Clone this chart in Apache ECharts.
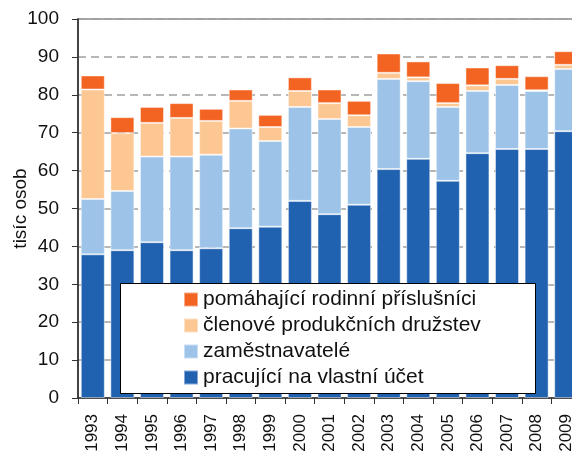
<!DOCTYPE html>
<html lang="cs">
<head>
    <meta charset="UTF-8">
    <title>tisíc osob</title>
    <script src="https://cdn.jsdelivr.net/npm/echarts@6.0.0/dist/echarts.min.js"></script>
    <style>
        html, body { margin: 0; padding: 0; background: #fff; overflow: hidden; }
        /* graf je vpravo oříznutý, proto je plátno širší než okno */
        #chart { width: 600px; height: 459px; }
    </style>
</head>
<body>
    <div id="chart"></div>

    <script>
        // roky na ose x
        const years = ['1993', '1994', '1995', '1996', '1997', '1998', '1999', '2000', '2001',
            '2002', '2003', '2004', '2005', '2006', '2007', '2008', '2009'];

        // hodnoty v tisících osob
        const vlastniUcet = [37.9, 39.0, 41.1, 39.0, 39.5, 44.8, 45.2, 52.0, 48.5,
            51.0, 60.4, 63.1, 57.3, 64.6, 65.7, 65.7, 70.4];
        const zamestnavatele = [14.6, 15.6, 22.6, 24.7, 24.7, 26.3, 22.6, 24.8, 25.1,
            20.5, 23.8, 20.5, 19.5, 16.4, 16.9, 15.3, 16.4];
        const clenoveDruzstev = [28.9, 15.3, 8.9, 10.2, 8.9, 7.3, 3.7, 4.2, 4.2,
            3.1, 1.6, 1.0, 1.0, 1.5, 1.6, 0.2, 1.1];
        const pomahajici = [3.7, 4.2, 4.2, 3.9, 3.2, 3.0, 3.2, 3.6, 3.6,
            3.8, 5.1, 4.2, 5.3, 4.7, 3.6, 3.7, 3.6];

        const yTicks = { min: 0, max: 100, interval: 10 };

        const font = '"Liberation Sans", Arial, sans-serif';

        function bar(name, data, color) {
            return {
                name: name,
                type: 'bar',
                stack: 'celkem',
                data: data,
                barWidth: 24,
                itemStyle: {
                    color: color,
                    borderColor: 'rgba(255,255,255,0.45)',
                    borderWidth: 1
                }
            };
        }

        const chart = echarts.init(document.getElementById('chart'));
        const option = {
            animation: false,
            textStyle: { fontFamily: font },
            grid: {
                left: 78,
                top: 19,
                right: 19,
                bottom: 61,
                outerBoundsMode: 'none',
                containLabel: false,
                show: true,
                borderColor: '#a6a6a6',
                borderWidth: 2
            },
            graphic: [{
                type: 'rect',
                z: 3,
                shape: { x: 120.5, y: 283.5, width: 415, height: 110 },
                style: { fill: '#fff', stroke: '#000', lineWidth: 1 }
            }],
            legend: {
                orient: 'vertical',
                left: 178,
                top: 284,
                z: 5,
                itemWidth: 14,
                itemHeight: 14,
                itemGap: 5,
                icon: 'rect',
                textStyle: { fontSize: 21, color: '#111', fontFamily: font },
                data: ['pomáhající rodinní příslušníci', 'členové produkčních družstev',
                    'zaměstnavatelé', 'pracující na vlastní účet']
            },
            xAxis: {
                type: 'category',
                data: years,
                axisLine: { lineStyle: { color: '#333', width: 1.5 } },
                axisTick: { show: true, length: 6, lineStyle: { color: '#333' } },
                axisLabel: { rotate: 90, fontSize: 17, color: '#111', margin: 16, interval: 0 }
            },
            yAxis: {
                type: 'value',
                min: yTicks.min,
                max: yTicks.max,
                interval: yTicks.interval,
                name: 'tisíc osob',
                nameLocation: 'middle',
                nameRotate: 90,
                nameGap: 48,
                nameMoveOverlap: false,
                nameTextStyle: { fontSize: 19, color: '#111' },
                axisLine: { show: true, lineStyle: { color: '#222', width: 1.5 } },
                axisTick: { show: true, length: 6, lineStyle: { color: '#333' } },
                axisLabel: { fontSize: 19, color: '#111', margin: 19 },
                splitLine: { lineStyle: { color: '#a0a0a0', width: 1.5, type: [8, 5] } }
            },
            series: [
                bar('pracující na vlastní účet', vlastniUcet, '#2162b0'),
                bar('zaměstnavatelé', zamestnavatele, '#9dc4e8'),
                bar('členové produkčních družstev', clenoveDruzstev, '#fdc793'),
                bar('pomáhající rodinní příslušníci', pomahajici, '#f36422')
            ]
        };
        chart.setOption(option);
    </script>
</body>
</html>
